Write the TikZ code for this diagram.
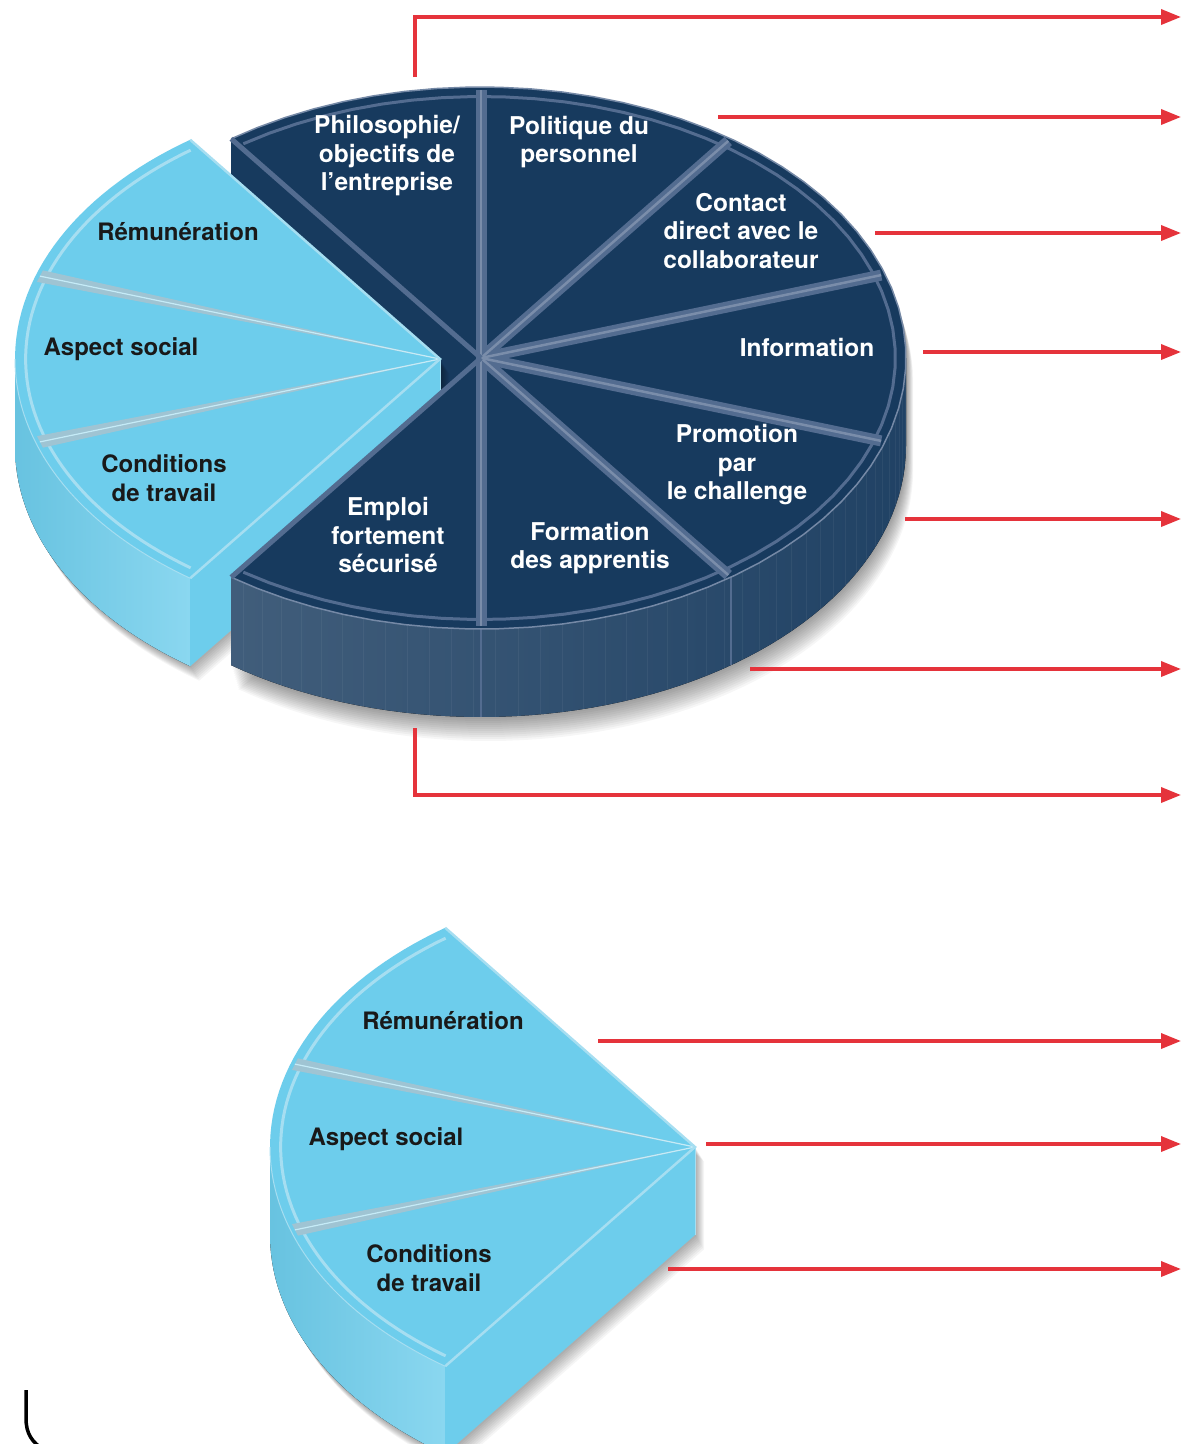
\documentclass[tikz,border=0pt]{standalone}
\usepackage{fontspec}
\setmainfont{TeX Gyre Heros}
\usetikzlibrary{arrows.meta}
\tikzset{>={Triangle[length=20pt,width=15pt]}}
\definecolor{navy}{HTML}{173A5E}
\definecolor{navyrim}{HTML}{536C90}
\definecolor{navyhi}{HTML}{7A8DAA}
\definecolor{sky}{HTML}{6DCDEC}
\definecolor{skyrim}{HTML}{A6DEF1}
\definecolor{skysep}{HTML}{9FC4D3}
\definecolor{arrowred}{HTML}{E5333B}

% the three light slices, apex at the origin
\newcommand{\skywedge}{%
  \foreach \s in {2,4,...,18}
    \fill[black,opacity=0.04,shift={(0.5*\s,0.8*\s)}] (0,0) -- plot[domain=126:180] ({ex(\x)},{ey(\x)})
      -- plot[domain=180:234] ({ex(\x)},{ey(\x)+88}) -- (0,88) -- cycle;
  \fill[left color=sky!95!black,right color=sky!80!white] plot[domain=180:234] ({ex(\x)},{ey(\x)})
    -- plot[domain=234:180] ({ex(\x)},{ey(\x)+88}) -- cycle;
  \fill[sky] (0,0) -- ({ex(234)},{ey(234)}) -- ++(0,88) -- (0,88) -- cycle;
  \fill[sky] (0,0) -- plot[domain=126:234] ({ex(\x)},{ey(\x)}) -- cycle;
  \draw[skyrim,line width=3pt] plot[domain=127:233] ({0.975*ex(\x)},{0.965*ey(\x)});
  \draw[skyrim,line width=1pt] plot[domain=180:234] ({ex(\x)},{ey(\x)});
  \foreach \a in {162,198}
    \fill[skysep] (0,0) -- ({0.99*ex(\a-1.3)},{0.99*ey(\a-1.3)}) -- ({0.99*ex(\a+1.3)},{0.99*ey(\a+1.3)}) -- cycle;
  \foreach \a in {162,198}
    \draw[white!60!sky,line width=1.2pt] (0,0) -- ({0.99*ex(\a)},{0.99*ey(\a)});
  \draw[skyrim,line width=2.5pt] ({ex(126)},{ey(126)}) -- (0,0) -- ({ex(234)},{ey(234)});
  \draw[skyrim,line width=1pt] (0,0) -- (0,88);
}

\begin{document}
\begin{tikzpicture}[x=1pt,y=-1pt,samples=60,
  declare function={ex(\t)=425*cos(\t); ey(\t)=-271*sin(\t);},
  dlabel/.style={text=white,align=center,inner sep=0pt,font=\bfseries\fontsize{24.5}{28.5}\selectfont},
  llabel/.style={text=black!90,align=center,inner sep=0pt,font=\bfseries\fontsize{24}{28.5}\selectfont},
  redline/.style={draw=arrowred,line width=3.5pt,->}]
\clip (0,0) rectangle (1181,1444);
\fill[white] (0,0) rectangle (1181,1444);

% dark pie: shadow and hidden cut face
\begin{scope}[shift={(481,358)}]
  \foreach \s in {2,4,...,24}
    \fill[black,opacity=0.035,shift={(0.3*\s,\s)}] plot[domain=126:0] ({ex(\x)},{ey(\x)})
      -- plot[domain=0:-126] ({ex(\x)},{ey(\x)+88}) -- (0,88) -- cycle;
  \fill[navy] (0,0) -- ({ex(126)},{ey(126)}) -- ++(0,88) -- (0,88) -- cycle;
\end{scope}

\begin{scope}[shift={(440,359)}]
  \skywedge
\end{scope}

% dark pie: side and top
\begin{scope}[shift={(481,358)}]
  \fill[left color=navy!82!white,middle color=navy!78!white,right color=navy!96!white]
    plot[domain=-126:0] ({ex(\x)},{ey(\x)}) -- plot[domain=0:-126] ({ex(\x)},{ey(\x)+88}) -- cycle;
  \foreach \a in {-124,-121,...,-4}
    \draw[white,opacity=0.05,line width=0.8pt] ({ex(\a)},{ey(\a)}) -- ++(0,88);
  \foreach \a in {-90,-54}
    \draw[navyrim,line width=1.5pt] ({ex(\a)},{ey(\a)}) -- ++(0,88);
  \fill[navy] (0,0) -- plot[domain=-126:126] ({ex(\x)},{ey(\x)}) -- cycle;
  \draw[navyrim,line width=3pt] plot[domain=-125:125] ({0.975*ex(\x)},{0.965*ey(\x)});
  \draw[navyrim!80!white,line width=1.5pt] plot[domain=-126:126] ({ex(\x)},{ey(\x)});
  \foreach \a in {90,54,18,-18,-54,-90}
    \draw[navyrim,line width=11pt] (0,0) -- ({0.99*ex(\a)},{0.99*ey(\a)});
  \foreach \a in {90,54,18,-18,-54,-90}
    \draw[navyhi,line width=2.5pt] (0,0) -- ({0.99*ex(\a)},{0.99*ey(\a)});
  \foreach \a in {126,-126}
    \draw[navyrim,line width=5pt] (0,0) -- ({ex(\a)},{ey(\a)});
\end{scope}

% the three slices again, alone
\begin{scope}[shift={(695,1147)}]
  \skywedge
\end{scope}

\node[dlabel] (philo) at (387,156) {Philosophie/\\objectifs de\\l’entreprise};
\node[dlabel] (polit) at (579,142) {Politique du\\personnel};
\node[dlabel] (contact) at (741,231) {Contact\\direct avec le\\collaborateur};
\node[dlabel] (info) at (807,347) {Information};
\node[dlabel] (promo) at (737,465) {Promotion\\par\\le challenge};
\node[dlabel] (forma) at (590,548) {Formation\\des apprentis};
\node[dlabel] (emploi) at (388,535) {Emploi\\fortement\\sécurisé};
\node[llabel] (remu) at (178,232) {Rémunération};
\node[llabel] (social) at (121,349) {Aspect social};
\node[llabel] (cond) at (164,478) {Conditions\\de travail};
\node[llabel] (remu2) at (443,1021) {Rémunération};
\node[llabel] (social2) at (386,1139) {Aspect social};
\node[llabel] (cond2) at (429,1268) {Conditions\\de travail};

% arrows to the right margin
\coordinate (a1) at (415,77);   \coordinate (b1) at (1181,17);
\coordinate (a2) at (718,117);  \coordinate (b2) at (1181,117);
\coordinate (a3) at (875,233);  \coordinate (b3) at (1181,233);
\coordinate (a4) at (923,352);  \coordinate (b4) at (1181,352);
\coordinate (a5) at (905,519);  \coordinate (b5) at (1181,519);
\coordinate (a6) at (750,669);  \coordinate (b6) at (1181,669);
\coordinate (a7) at (415,728);  \coordinate (b7) at (1181,795);
\coordinate (a8) at (598,1041); \coordinate (b8) at (1181,1041);
\coordinate (a9) at (706,1144); \coordinate (b9) at (1181,1144);
\coordinate (a10) at (668,1269); \coordinate (b10) at (1181,1269);
\draw[redline] (a1) |- (b1);
\foreach \i in {2,...,6}
  \draw[redline] (a\i) -- (b\i);
\draw[redline] (a7) |- (b7);
\foreach \i in {8,9,10}
  \draw[redline] (a\i) -- (b\i);

\draw[line width=3.5pt] (26,1390) -- (26,1418) .. controls (26,1434) and (32,1442) .. (44,1450);
\end{tikzpicture}
\end{document}
